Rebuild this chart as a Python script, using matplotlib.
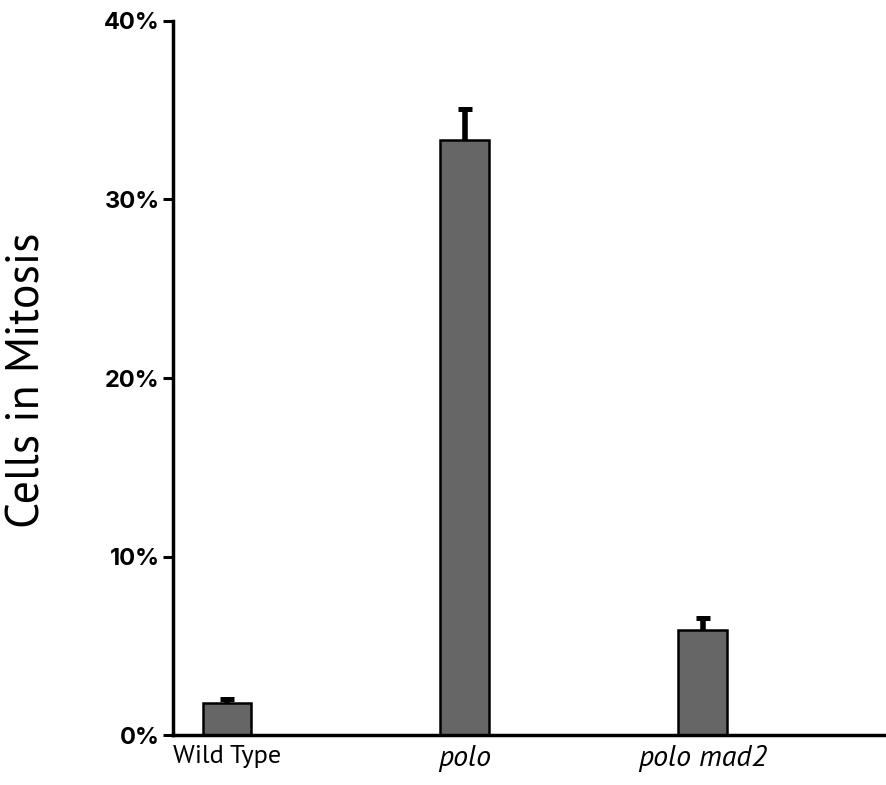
import matplotlib
matplotlib.use("Agg")
import matplotlib.pyplot as plt
import matplotlib.transforms as mtransforms
from matplotlib.ticker import FuncFormatter

categories = ["Wild Type", "polo", "polo mad2"]
italic = [False, True, True]
values = [1.8, 33.3, 5.9]
errors = [0.25, 1.75, 0.7]
yticks = [0, 10, 20, 30, 40]

LABEL_FONT = ["PT Sans", "Open Sans", "DejaVu Sans"]
TICK_FONT = ["Inter", "Liberation Sans", "DejaVu Sans"]

fig = plt.figure(figsize=(8.87, 7.85), dpi=100)
ax = fig.add_axes([0.1956, 0.0631, 0.8044, 0.9105])

x = list(range(len(categories)))
ax.bar(x, values, width=0.205, color="#666666", edgecolor="black", linewidth=1.8, zorder=2)
eb = ax.errorbar(x, values, yerr=[[0] * len(errors), errors], fmt="none", ecolor="black",
                 elinewidth=4, capsize=5, capthick=3.6, zorder=1)
eb[1][0].set_visible(False)

ax.set_xlim(-0.225, 2.776)
ax.set_ylim(0, 40)
ax.set_yticks(yticks)
ax.yaxis.set_major_formatter(FuncFormatter(lambda v, p: f"{v:.0f}%"))
for lab in ax.get_yticklabels():
    lab.set_fontfamily(TICK_FONT)
    lab.set_fontweight("bold")
    lab.set_fontsize(17)

ax.set_xticks(x)
ax.set_xticklabels(categories)
for lab, it in zip(ax.get_xticklabels(), italic):
    lab.set_fontfamily(LABEL_FONT)
    lab.set_fontweight("normal")
    if it:
        lab.set_fontstyle("italic")
        lab.set_fontsize(21.5)
    else:
        lab.set_fontsize(19)
        lab.set_transform(lab.get_transform() +
                          mtransforms.ScaledTranslation(0.03, -0.04, fig.dpi_scale_trans))

ax.tick_params(axis="y", direction="out", length=7, width=2.2, pad=3)
ax.tick_params(axis="x", length=0, pad=7)

for s in ["top", "right"]:
    ax.spines[s].set_visible(False)
for s in ["left", "bottom"]:
    ax.spines[s].set_linewidth(2.5)

fig.text(0.031, 0.516, "Cells in Mitosis", rotation=90, ha="center", va="center",
         fontsize=33, fontweight="normal", family=LABEL_FONT)

fig.savefig("out.png", dpi=100)
